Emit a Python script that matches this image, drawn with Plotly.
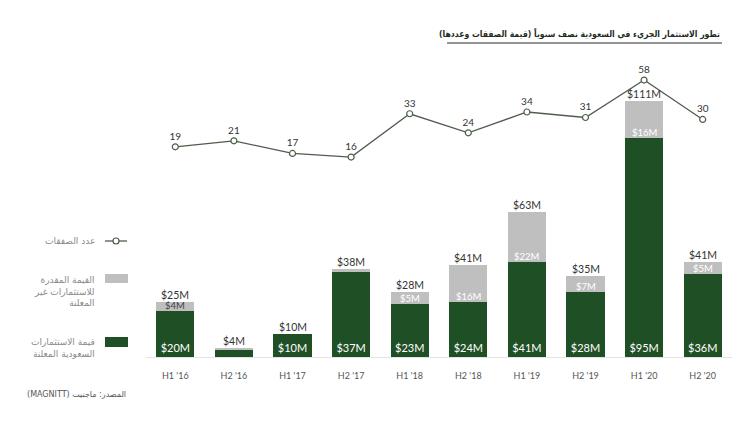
import plotly.graph_objects as go

categories = ["H1 '16", "H2 '16", "H1 '17", "H2 '17", "H1 '18", "H2 '18", "H1 '19", "H2 '19", "H1 '20", "H2 '20"]
announced = [20, 3, 10, 37, 23, 24, 41, 28, 95, 36]
undisclosed = [4, 1, 0, 1, 5, 16, 22, 7, 16, 5]
total_labels = ["$25M", "$4M", "$10M", "$38M", "$28M", "$41M", "$63M", "$35M", "$111M", "$41M"]
announced_labels = ["$20M", "", "$10M", "$37M", "$23M", "$24M", "$41M", "$28M", "$95M", "$36M"]
undisclosed_labels = ["$4M", "", "", "", "$5M", "$16M", "$22M", "$7M", "$16M", "$5M"]
deals = [19, 21, 17, 16, 33, 24, 34, 31, 58, 30]

RLE, PDF = "\u202b", "\u202c"
title_text = RLE + "تطور الاستثمار الجريء في السعودية نصف سنوياً (قيمة الصفقات وعددها)" + PDF
legend_deals = RLE + "عدد الصفقات" + PDF
legend_undisclosed = "<br>".join(RLE + s + PDF for s in ["القيمة المقدرة", "للاستثمارات غير", "المعلنة"])
legend_announced = "<br>".join(RLE + s + PDF for s in ["قيمة الاستثمارات", "السعودية المعلنة"])
source_text = RLE + "المصدر: ماجنيت (MAGNITT)" + PDF

W, H = 750, 430
L, R, T, B = 146, 18, 60, 73
PW, PH = W - L - R, H - T - B

def px(x):
    return (x - L) / PW

def py(y):
    return 1 - (y - T) / PH

GREEN = "#1f4f25"
GRAY = "#bfbfbf"
LINE = "#4f5c4c"
FONT = "Lato, 'DejaVu Sans', sans-serif"
AR = "'DejaVu Sans', sans-serif"

fig = go.Figure()
fig.add_trace(go.Bar(
    x=categories, y=announced, marker=dict(color=GREEN, line=dict(width=0)),
    text=announced_labels, textposition="inside", insidetextanchor="start",
    textfont=dict(color="white", size=11, family=FONT), textangle=0,
    cliponaxis=False, showlegend=False, hoverinfo="skip"))
fig.add_trace(go.Bar(
    x=categories, y=undisclosed, marker=dict(color=GRAY, line=dict(width=0)),
    showlegend=False, hoverinfo="skip"))
fig.add_trace(go.Scatter(
    x=categories, y=deals, yaxis="y2", mode="lines+markers+text",
    line=dict(color=LINE, width=1.3),
    marker=dict(symbol="circle", size=6, color="white", line=dict(color=LINE, width=1.2)),
    text=[str(d) for d in deals], textposition="top center",
    textfont=dict(color="#333333", size=10, family=FONT),
    cliponaxis=False, showlegend=False, hoverinfo="skip"))

annotations = []
for c, a, u, tl, ul in zip(categories, announced, undisclosed, total_labels, undisclosed_labels):
    annotations.append(dict(x=c, y=a + u, xref="x", yref="y", text=tl, showarrow=False,
                            yanchor="bottom", yshift=-1,
                            font=dict(size=10.5, color="#333333", family=FONT)))
    if ul:
        dark = u < 5
        annotations.append(dict(x=c, y=a, xref="x", yref="y", text=ul, showarrow=False,
                                yanchor="bottom", yshift=-2,
                                font=dict(size=9.5, color="#444444" if dark else "white", family=FONT)))

annotations += [
    dict(x=px(722), y=py(33), xref="paper", yref="paper", text=title_text, showarrow=False,
         xanchor="right", yanchor="middle",
         font=dict(size=8.6, color="#1c2b1c", family="'DejaVu Sans Condensed', 'DejaVu Sans', sans-serif", weight="bold")),
    dict(x=px(97), y=py(241), xref="paper", yref="paper", text=legend_deals, showarrow=False,
         xanchor="right", yanchor="middle", align="right", font=dict(size=9, color="#8a8a8a", family=AR)),
    dict(x=px(97), y=py(291), xref="paper", yref="paper", text=legend_undisclosed, showarrow=False,
         xanchor="right", yanchor="middle", align="right", font=dict(size=9, color="#8a8a8a", family=AR)),
    dict(x=px(97), y=py(348), xref="paper", yref="paper", text=legend_announced, showarrow=False,
         xanchor="right", yanchor="middle", align="right", font=dict(size=9, color="#8a8a8a", family=AR)),
    dict(x=px(25), y=py(394), xref="paper", yref="paper", text=source_text, showarrow=False,
         xanchor="left", yanchor="middle", font=dict(size=8, color="#555555", family=AR)),
]

shapes = [
    dict(type="line", xref="paper", yref="paper", x0=px(447), x1=px(722), y0=py(43), y1=py(43),
         line=dict(color="#2b2b2b", width=1)),
    dict(type="line", xref="paper", yref="paper", x0=px(105), x1=px(127), y0=py(241), y1=py(241),
         line=dict(color=LINE, width=1.3)),
    dict(type="circle", xref="paper", yref="paper", x0=px(113), x1=px(119), y0=py(238), y1=py(244),
         fillcolor="white", line=dict(color=LINE, width=1.2)),
    dict(type="rect", xref="paper", yref="paper", x0=px(105), x1=px(128), y0=py(274), y1=py(283),
         fillcolor=GRAY, line=dict(width=0)),
    dict(type="rect", xref="paper", yref="paper", x0=px(105), x1=px(128), y0=py(337), y1=py(347),
         fillcolor=GREEN, line=dict(width=0)),
]

fig.update_layout(
    width=W, height=H, margin=dict(l=L, r=R, t=T, b=B, autoexpand=False),
    paper_bgcolor="white", plot_bgcolor="white",
    barmode="stack", bargap=0.35,
    showlegend=False,
    font=dict(family=FONT),
    xaxis=dict(range=[-0.5, 9.5], showgrid=False, showline=True, linecolor="#e3e3e3", linewidth=1, ticks="",
               tickfont=dict(size=9, color="#555555", family=FONT), ticklabelstandoff=10,
               zeroline=False, automargin=False),
    yaxis=dict(range=[0, 128.6], visible=False, showgrid=False, zeroline=False),
    yaxis2=dict(type="log", range=[-0.248, 1.909], overlaying="y", visible=False,
                showgrid=False, zeroline=False),
    annotations=annotations, shapes=shapes,
    uniformtext=dict(minsize=10, mode="show"),
)

fig.write_html("out.html")
